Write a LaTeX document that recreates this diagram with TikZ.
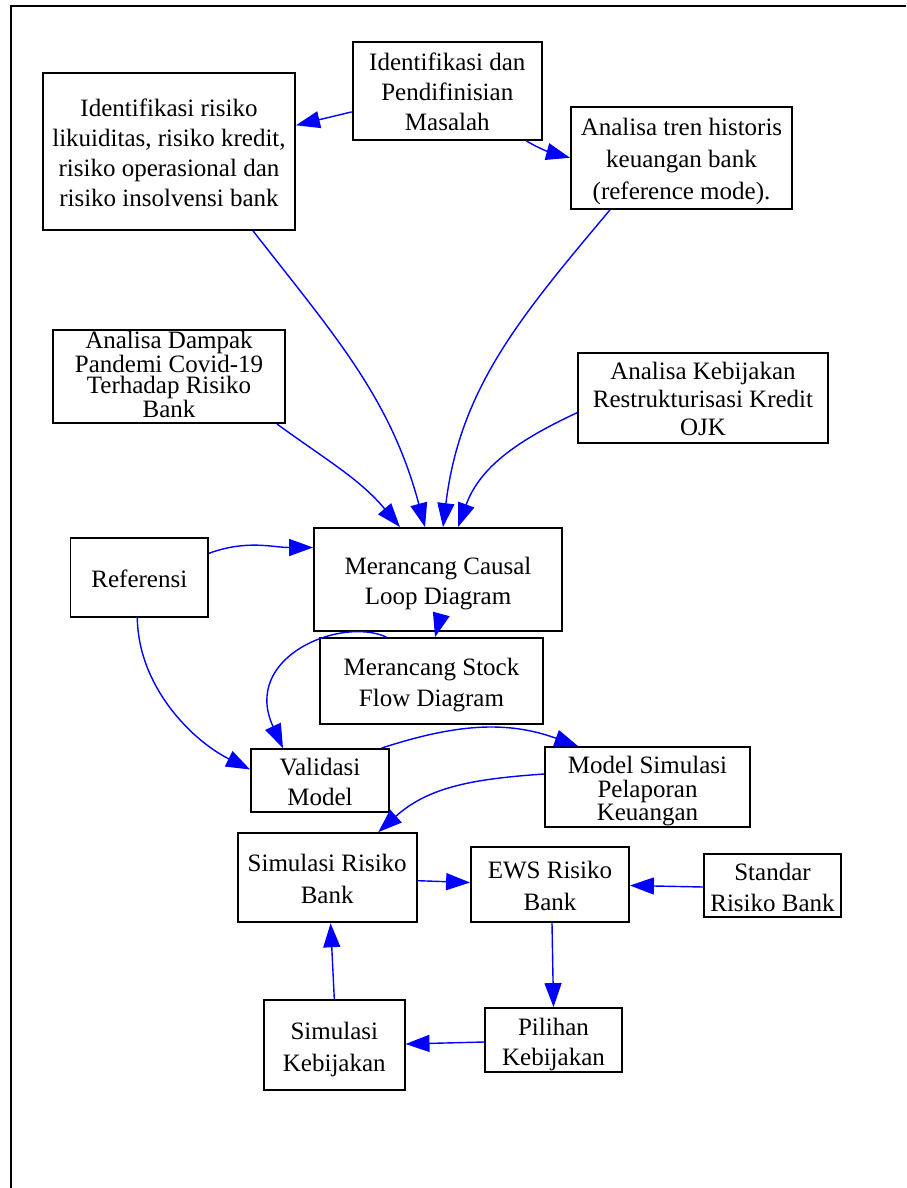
\documentclass[tikz,border=0pt]{standalone}
\usepackage{fontspec}
\setmainfont{Liberation Serif}
\usetikzlibrary{arrows.meta}

% invisible strut that fixes the height of the first and the depth of the last line
\newcommand{\linestrut}{\rule[-6pt]{0pt}{32pt}}

\tikzset{
  box/.style={draw=black, line width=1.8pt, inner sep=0pt, align=center,
              font=\fontsize{25}{30}\selectfont,
              execute at end node=\linestrut},
  sp/.style={font=\fontsize{25}{#1}\selectfont},
  link/.style={draw=blue, line width=1.4pt,
               -{Triangle[length=24pt,width=17pt]}},
}

\begin{document}
\begin{tikzpicture}[x=1pt,y=1pt]
\useasboundingbox (0,0) rectangle (906,-1188);

% page frame (top and left edges)
\draw[line width=2pt] (10.5,-1188) -- (10.5,-6.5) -- (906,-6.5);

% process steps
\node[box, minimum width=189.4pt, minimum height=98.3pt] (A) at (447.3,-90.9)
  {\linestrut Identifikasi dan\\Pendifinisian\\Masalah};
\node[box, minimum width=252pt, minimum height=157.3pt] (B) at (169,-151.3)
  {\linestrut Identifikasi risiko\\likuiditas, risiko kredit,\\risiko operasional dan\\risiko insolvensi bank};
\node[box, sp=32, minimum width=221pt, minimum height=102.3pt] (C) at (681.5,-157.8)
  {\linestrut Analisa tren historis\\keuangan bank\\(reference mode).};
% tightly set four-line label
\node[box, sp=21, execute at end node={}, minimum width=232pt, minimum height=92pt] (D) at (169,-376.7)
  {\rule{0pt}{18.5pt}Analisa Dampak\\Pandemi Covid-19\\Terhadap Risiko\\Bank};
\node[box, sp=28, minimum width=250pt, minimum height=90pt] (E) at (703,-397.7)
  {\linestrut Analisa Kebijakan\\Restrukturisasi Kredit\\OJK};
\node[box, minimum width=248pt, minimum height=103pt] (F) at (438,-579.5)
  {\linestrut Merancang Causal\\Loop Diagram};
\node[box, minimum width=137.5pt, minimum height=79.3pt] (G) at (139.3,-577.3)
  {\linestrut Referensi};
\node[box, sp=31, minimum width=223pt, minimum height=86pt] (H) at (431.5,-681)
  {\linestrut Merancang Stock\\Flow Diagram};
\node[box, minimum width=138pt, minimum height=63pt] (I) at (320,-780.5)
  {\linestrut Validasi\\Model};
\node[box, sp=23, minimum width=205pt, minimum height=76pt] (J) at (647.5,-787)
  {\linestrut Model Simulasi\\Pelaporan\\Keuangan};
\node[box, sp=32, minimum width=179.2pt, minimum height=89.3pt] (K) at (327.2,-877.7)
  {\linestrut Simulasi Risiko\\Bank};
\node[box, sp=32, minimum width=158pt, minimum height=75.6pt] (L) at (550,-884.5)
  {\linestrut EWS Risiko\\Bank};
\node[box, sp=31, minimum width=137pt, minimum height=63pt] (M) at (772.5,-885.5)
  {\linestrut Standar\\Risiko Bank};
\node[box, minimum width=137pt, minimum height=64pt] (N) at (553.5,-1040)
  {\linestrut Pilihan\\Kebijakan};
\node[box, sp=32, minimum width=140.6pt, minimum height=90pt] (O) at (334.3,-1045)
  {\linestrut Simulasi\\Kebijakan};

% connectors
\draw[link] ([yshift=-21pt]A.west) -- ([yshift=26pt]B.east);
\draw[link] ([xshift=79pt]A.south) to[out=-30,in=165] (C.west);
\draw[link] ([xshift=84pt]B.south) to[out=-52,in=105] ([xshift=-13pt]F.north);
\draw[link] ([xshift=-71.5pt]C.south) to[out=-130,in=83] ([xshift=5pt]F.north);
\draw[link] ([xshift=108pt]D.south) to[out=-36,in=130] ([xshift=-38pt]F.north);
\draw[link] ([yshift=-15pt]E.west) to[out=-155,in=70] ([xshift=20pt]F.north);
\draw[link] ([yshift=24pt]G.east) to[out=20,in=180] ([yshift=32pt]F.west);
\draw[link] ([xshift=2.5pt,yshift=15pt]F.south) -- ([xshift=3.5pt]H.north);
\draw[link] ([xshift=-45pt]H.north) .. controls +(-46,21) and +(-42,91) .. ([xshift=-37pt]I.north);
\draw[link] ([xshift=-2pt]G.south) .. controls +(1,-69) and +(-58,29) .. ([yshift=11pt]I.west);
\draw[link] ([xshift=61.5pt]I.north) to[out=18,in=160] ([xshift=-69pt]J.north);
\draw[link] ([yshift=13pt]J.west) to[out=184,in=42] ([xshift=51pt]K.north);
\draw[link] ([yshift=-3pt]K.east) -- ([yshift=2pt]L.west);
\draw[link] ([yshift=-1.5pt]M.west) -- ([yshift=-1pt]L.east);
\draw[link] ([xshift=2pt]L.south) -- (N.north);
\draw[link] ([yshift=-2pt]N.west) -- ([yshift=1pt]O.east);
\draw[link] (O.north) -- ([xshift=3.4pt]K.south);
\end{tikzpicture}
\end{document}
